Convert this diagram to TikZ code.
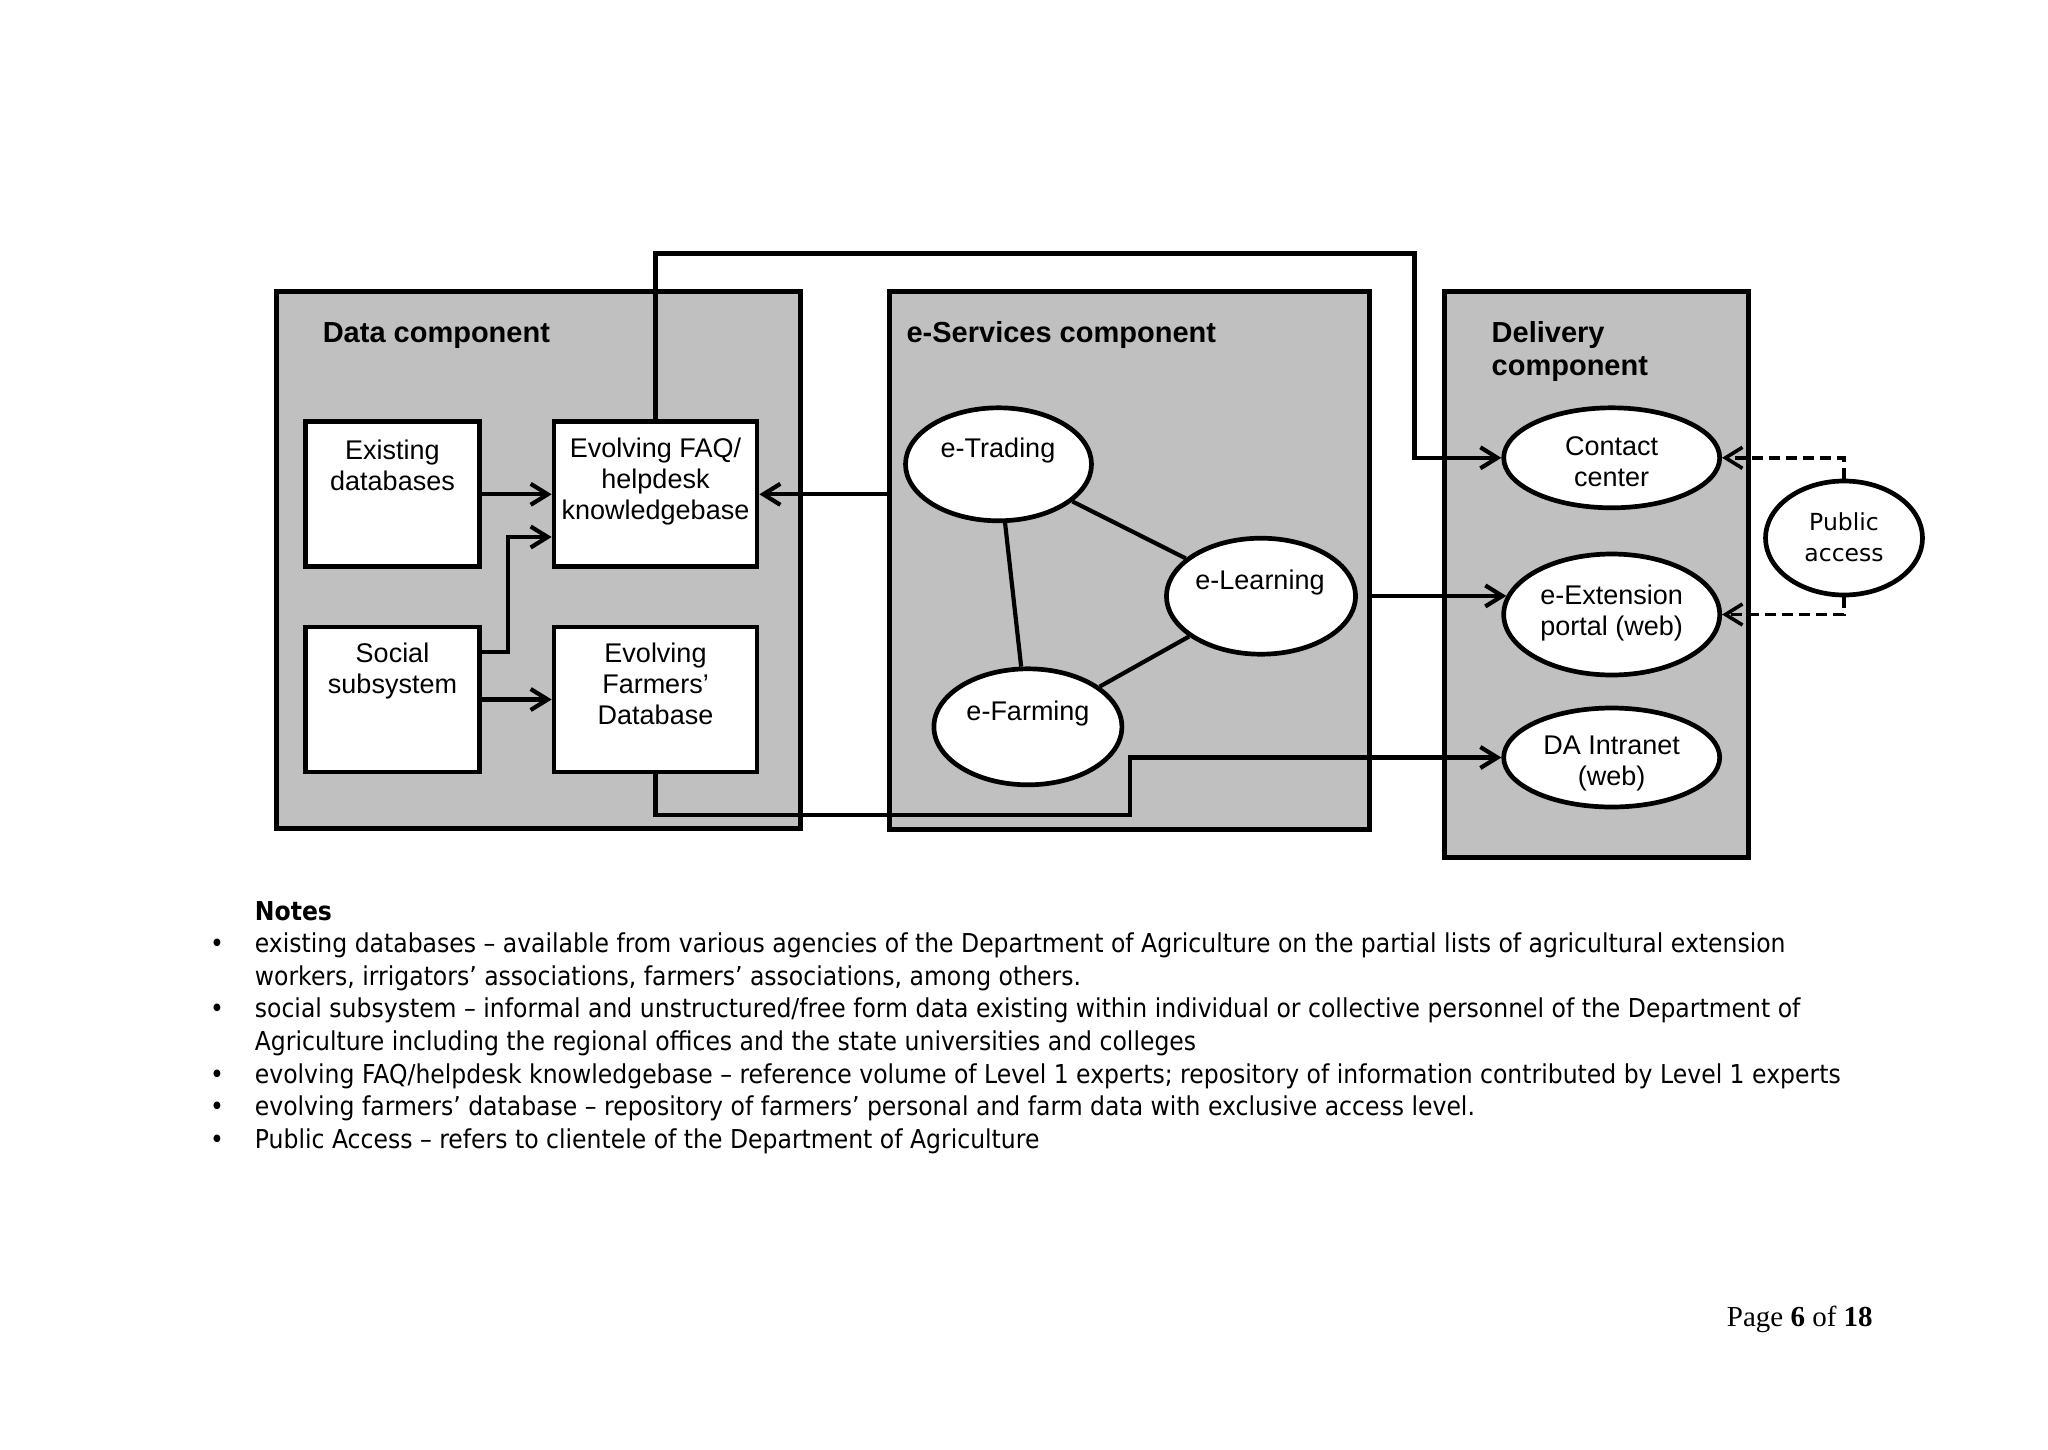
\documentclass[tikz,border=0pt]{standalone}
\usepackage{fontspec}
\setmainfont{Liberation Sans}
\newfontfamily\notefont{DejaVu Sans}[FakeStretch=0.905]
\newfontfamily\pafont{DejaVu Sans}
\newfontfamily\pgfont{Liberation Serif}
\usetikzlibrary{shapes.geometric,arrows.meta}
\definecolor{compgray}{RGB}{192,192,192}
\begin{document}
\begin{tikzpicture}[x=1pt,y=-1pt,
  comp/.style={draw=black,fill=compgray,line width=5pt,rectangle,inner sep=0pt},
  wbox/.style={draw=black,fill=white,line width=4.7pt,rectangle,inner sep=0pt},
  ell/.style={draw=black,fill=white,line width=4.7pt,ellipse,inner sep=0pt},
  lbl/.style={anchor=north west,inner sep=0pt,align=left,font=\bfseries\fontsize{29}{33}\selectfont},
  txt/.style={anchor=north,inner sep=0pt,align=center,font=\fontsize{27}{31}\selectfont},
  arr/.style={line width=4.2pt,-{Straight Barb[length=17pt,width=21pt]}},
  conn/.style={line width=4.2pt},
  dsh/.style={line width=3.6pt,dash pattern=on 11pt off 6pt,-{Straight Barb[length=17pt,width=21pt]}}
]
\fill[white] (0,0) rectangle (2048,1449);
\useasboundingbox (0,0) rectangle (2048,1449);

% component boxes
\node[comp,minimum width=524pt,minimum height=537pt] (datac) at (538.4,560) {};
\node[comp,minimum width=480pt,minimum height=538pt] (eserv) at (1129.5,560.5) {};
\node[comp,minimum width=304pt,minimum height=566pt] (deliv) at (1596.5,574.5) {};

\node[lbl] (datal) at (322.6,318.9) {\strut Data component};
\node[lbl] (eservl) at (906.4,318.9) {\strut e-Services component};
\node[lbl] (delivl) at (1491.5,318.9) {\strut Delivery\\\strut component};

% data boxes
\node[wbox,minimum width=174pt,minimum height=145pt] (exdb) at (392.5,494.3) {};
\node[wbox,minimum width=203pt,minimum height=145pt] (faq) at (655.5,494.3) {};
\node[wbox,minimum width=174pt,minimum height=145pt] (social) at (392.5,699.5) {};
\node[wbox,minimum width=203pt,minimum height=145pt] (farm) at (655.5,699.5) {};

\node[txt] (exdbt) at (392.5,437.7) {\strut Existing\\\strut databases};
\node[txt] (faqt) at (655.5,436) {\strut Evolving FAQ/\\\strut helpdesk\\\strut knowledgebase};
\node[txt] (socialt) at (392.5,641) {\strut Social\\\strut subsystem};
\node[txt] (farmt) at (655.5,641) {\strut Evolving\\\strut Farmers’\\\strut Database};

% e-services ellipses
\node[ell,minimum width=186pt,minimum height=113pt] (etr) at (998.5,464.3) {};
\node[ell,minimum width=189pt,minimum height=116pt] (elr) at (1261,596.2) {};
\node[ell,minimum width=188pt,minimum height=116pt] (efa) at (1027.9,726.8) {};
\draw[conn] (etr) -- (elr);
\draw[conn] (etr) -- (efa);
\draw[conn] (elr) -- (efa);
\node[txt] (etrt) at (998,436) {\strut e-Trading};
\node[txt] (elrt) at (1260,568) {\strut e-Learning};
\node[txt] (efat) at (1028,698.5) {\strut e-Farming};

% delivery ellipses
\node[ell,minimum width=216pt,minimum height=100pt] (cc) at (1611.7,457.8) {};
\node[ell,minimum width=216pt,minimum height=121pt] (eext) at (1611.7,614.5) {};
\node[ell,minimum width=216pt,minimum height=99pt] (dai) at (1611.7,757.5) {};
\node[txt] (cct) at (1611.7,433.4) {\strut Contact\\\strut center};
\node[txt] (eextt) at (1611.7,582.3) {\strut e-Extension\\\strut portal (web)};
\node[txt] (dait) at (1611.7,732.5) {\strut DA Intranet\\\strut (web)};

% public access
\node[ell,minimum width=157pt,minimum height=114pt] (pa) at (1844,538) {};
\node[txt,font=\pafont\fontsize{23.5}{31}\selectfont] (pat) at (1844,509) {\strut Public\\\strut access};

% connectors
\draw[arr] (exdb.east) -- (faq.west);
\coordinate (sk) at (508,652);
\coordinate (sj) at (508,537);
\draw[arr] (social.east |- sk) -- (sk) -- (sj) -- (faq.west |- sj);
\draw[arr] (social.east) -- (farm.west);
\draw[arr] (eserv.west |- faq.east) -- (faq.east);
\coordinate (t1) at (1414.5,253.4);
\draw[arr] (faq.north) |- (t1) |- (cc.west);
\draw[arr] (eserv.east |- eext.170) -- (eext.170);
\coordinate (f1) at (1129.8,815);
\draw[arr] (farm.south) |- (f1) |- (dai.west);
\draw[dsh] (pa.north) |- (cc.east);
\draw[dsh] (pa.south) |- (eext.east);

% notes
\node[anchor=north west,inner sep=0pt,align=left,font=\notefont\fontsize{26}{32.6}\selectfont] (notes) at (254.7,897) {%
\strut\textbf{Notes}\\
\strut\llap{•\hspace{31pt}}existing databases – available from various agencies of the Department of Agriculture on the partial lists of agricultural extension\\
\strut workers, irrigators’ associations, farmers’ associations, among others.\\
\strut\llap{•\hspace{31pt}}social subsystem – informal and unstructured/free form data existing within individual or collective personnel of the Department of\\
\strut Agriculture including the regional offices and the state universities and colleges\\
\strut\llap{•\hspace{31pt}}evolving FAQ/helpdesk knowledgebase – reference volume of Level 1 experts; repository of information contributed by Level 1 experts\\
\strut\llap{•\hspace{31pt}}evolving farmers’ database – repository of farmers’ personal and farm data with exclusive access level.\\
\strut\llap{•\hspace{31pt}}Public Access – refers to clientele of the Department of Agriculture};

\node[anchor=base west,inner sep=0pt,font=\pgfont\fontsize{29}{33}\selectfont] (pg) at (1726.7,1326) {Page \textbf{6} of \textbf{18}};
\end{tikzpicture}
\end{document}
